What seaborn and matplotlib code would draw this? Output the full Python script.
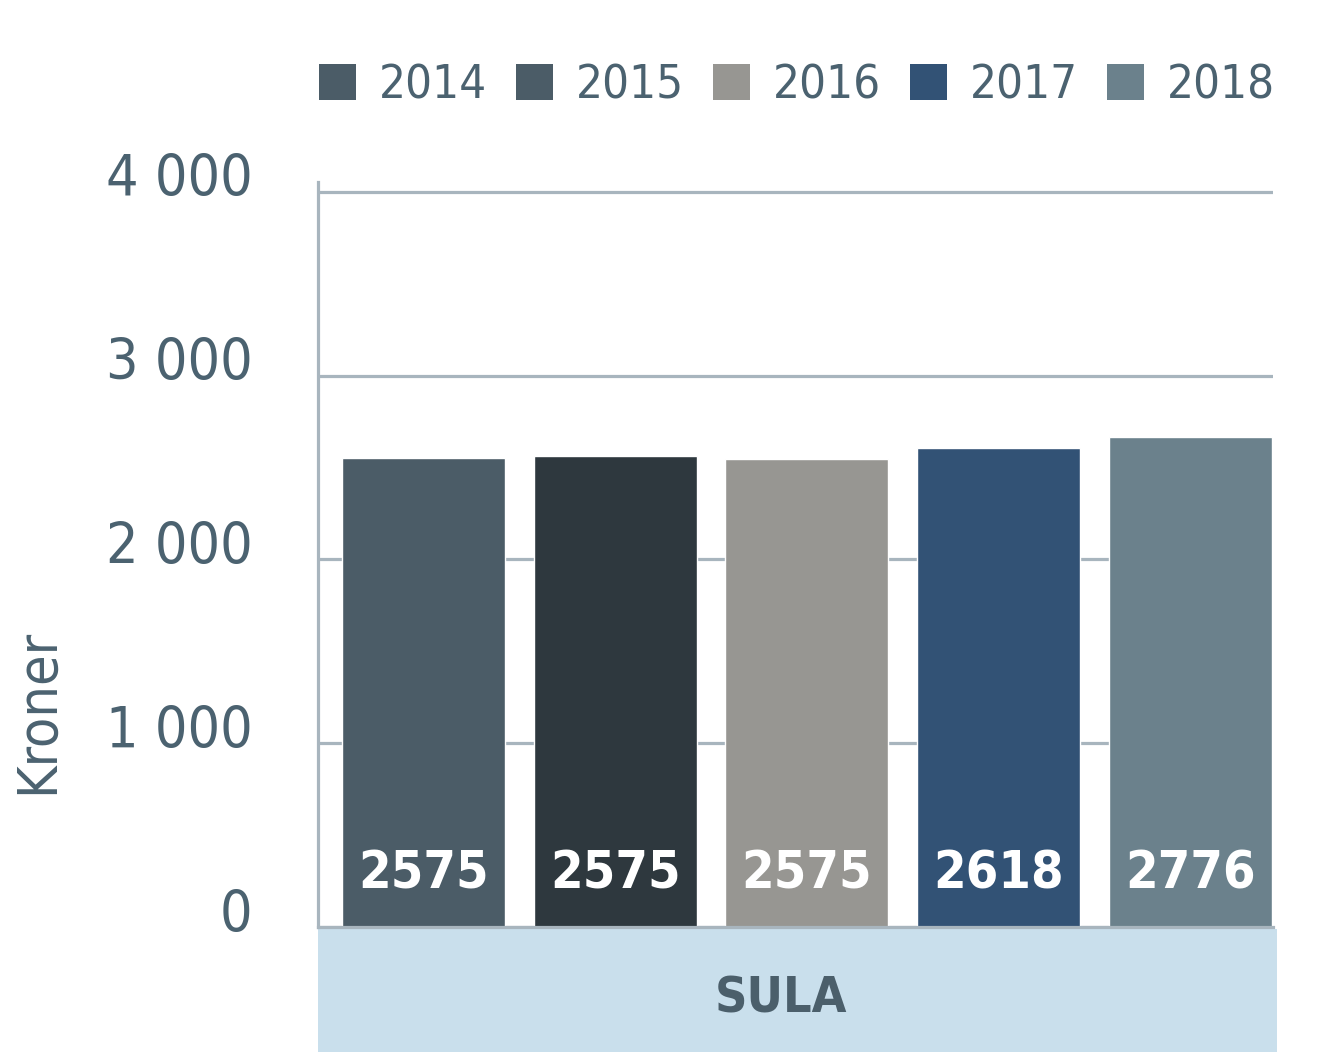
import matplotlib
matplotlib.use("Agg")
import matplotlib.pyplot as plt
import matplotlib.transforms as mtransforms
from matplotlib.patches import Patch, Rectangle
import pandas as pd
import seaborn as sns

# ---- data ----
region = ["SULA"]
years = ["2014", "2015", "2016", "2017", "2018"]
bar_heights = [2552, 2563, 2547, 2607, 2667]
value_labels = ["2575", "2575", "2575", "2618", "2776"]
bar_colors = ["#4b5c67", "#2e383e", "#979692", "#325275", "#6b818c"]
legend_colors = ["#4b5c67", "#4b5c67", "#979692", "#325275", "#6b818c"]
y_ticks = [0, 1000, 2000, 3000, 4000]
y_tick_labels = ["0", "1 000", "2 000", "3 000", "4 000"]
y_label = "Kroner"

text_color = "#4b6270"
grid_color = "#a8b5be"
band_color = "#c9dfec"

sns.set_style("white")
plt.rcParams["font.family"] = ["DejaVu Sans"]
plt.rcParams["font.stretch"] = "condensed"

df = pd.DataFrame({
    "region": region * len(years),
    "year": years,
    "value": bar_heights,
})

fig = plt.figure(figsize=(13.26, 10.52), dpi=100, facecolor="white")
ax = fig.add_axes([318 / 1326, 125 / 1052, 955 / 1326, 745 / 1052])

sns.barplot(data=df, x="region", y="value", hue="year", hue_order=years,
            palette=bar_colors, saturation=1, width=0.8, gap=0.15,
            legend=False, ax=ax, zorder=2)

ax.set_xlim(-0.408, 0.389)
ax.set_ylim(0, 4054)
ax.set_yticks(y_ticks)
ax.set_yticklabels(y_tick_labels)
ax.set_xlabel("")
ax.set_ylabel(y_label, fontsize=40, color=text_color)
ax.yaxis.set_label_coords(-0.265, 0.289)

ax.grid(axis="y", color=grid_color, linewidth=2.3, zorder=0)
ax.grid(axis="x", visible=False)
ax.set_axisbelow(True)

for s in ["top", "right"]:
    ax.spines[s].set_visible(False)
for s in ["left", "bottom"]:
    ax.spines[s].set_color(grid_color)
    ax.spines[s].set_linewidth(2.3)

ax.tick_params(axis="y", length=0, pad=47, labelsize=41, labelcolor=text_color)
ax.tick_params(axis="x", length=0, pad=34, labelsize=36, labelcolor="#4b5f6b")
for lab in ax.get_xticklabels():
    lab.set_fontweight("bold")

# nudge tick labels like the reference
for lab in ax.get_yticklabels():
    lab.set_transform(lab.get_transform() +
                      mtransforms.ScaledTranslation(0, 0.17, fig.dpi_scale_trans))
for lab in ax.get_xticklabels():
    lab.set_transform(lab.get_transform() +
                      mtransforms.ScaledTranslation(-0.26, 0, fig.dpi_scale_trans))

# value labels near bar bottoms
for cont, txt in zip(ax.containers, value_labels):
    bar = cont[0]
    xc = bar.get_x() + bar.get_width() / 2
    ax.annotate(txt, xy=(xc, 0), xytext=(0, 27.5), textcoords="offset points",
                ha="center", va="baseline", fontsize=37.5, fontweight="bold",
                color="white", zorder=5)

# light blue band under the axis
fig.patches.append(Rectangle((318 / 1326, 0), (1277 - 318) / 1326, 123 / 1052,
                             transform=fig.transFigure, facecolor=band_color,
                             edgecolor="none", zorder=-1))

# legend
handles = [Patch(facecolor=c, edgecolor="none", label=y)
           for c, y in zip(legend_colors, years)]
fig.legend(handles=handles, loc="center", bbox_to_anchor=(0.601, 1 - 86 / 1052),
           ncol=5, frameon=False, fontsize=34, labelcolor=text_color,
           handlelength=0.78, handleheight=0.78, handletextpad=0.48,
           columnspacing=0.62, borderpad=0, borderaxespad=0)

fig.savefig("out.png", dpi=100, facecolor="white")
